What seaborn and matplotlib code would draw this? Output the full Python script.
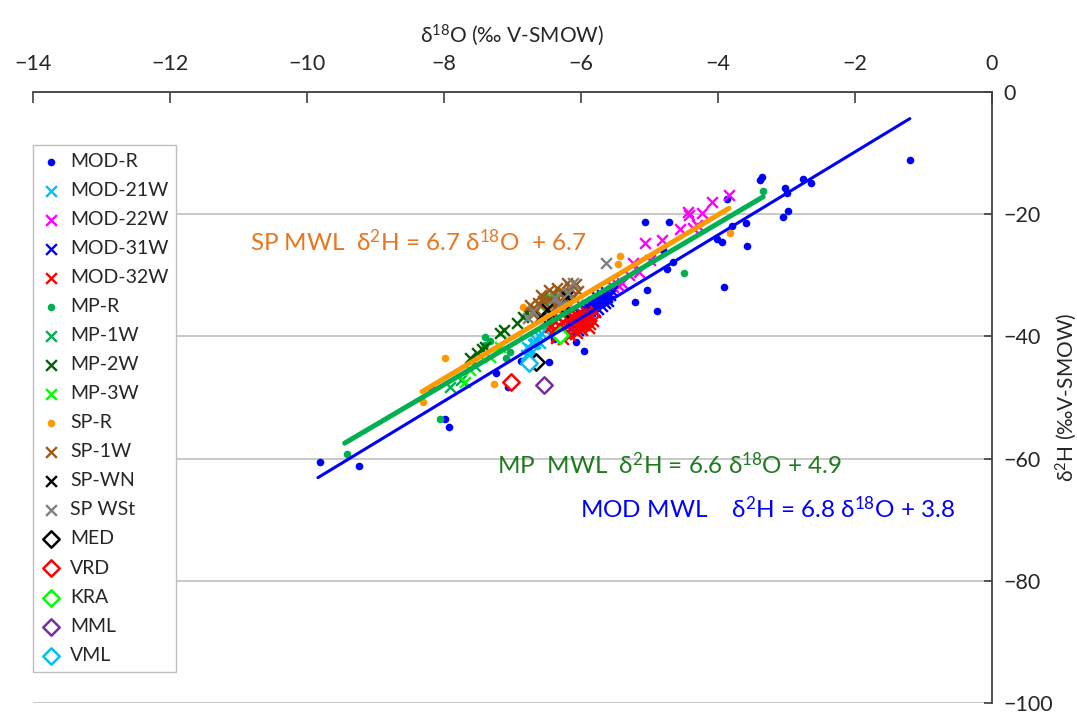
import numpy as np
import pandas as pd
import matplotlib
matplotlib.use("Agg")
import matplotlib.pyplot as plt
import seaborn as sns

# --- data (delta18O, delta2H) ---
mod_r_x = [-9.81, -9.24, -8.18, -7.99, -7.93, -7.24, -7.07, -6.88, -6.74, -6.47, -6.39, -6.07,
           -5.96, -5.21, -5.04, -4.89, -4.80, -4.74, -4.66, -5.07, -4.72, -4.01, -3.94, -3.91,
           -3.87, -3.80, -3.59, -3.58, -3.39, -3.36, -3.05, -2.98, -3.02, -3.00, -2.76, -2.64, -1.20]
mod_r_y = [-60.6, -61.2, -48.6, -53.5, -54.8, -46.0, -48.3, -44.0, -44.7, -44.2, -40.4, -40.9,
           -42.4, -34.4, -32.4, -35.8, -25.9, -29.0, -27.8, -21.3, -21.3, -24.1, -24.6, -31.9,
           -17.5, -22.0, -21.4, -25.2, -14.4, -13.9, -20.5, -19.5, -15.7, -16.5, -14.2, -14.9, -11.1]

mod_21w_x = [-6.80, -6.76, -6.79, -6.75, -6.72, -6.70, -6.67, -6.66, -6.62, -6.60, -6.58, -6.52, -6.50]
mod_21w_y = [-43.0, -43.4, -41.7, -42.0, -42.6, -41.3, -41.1, -40.6, -40.0, -41.0, -39.4, -39.0, -38.6]

mod_22w_x = [-3.84, -4.09, -4.24, -4.44, -4.42, -4.36, -4.30, -4.55, -4.82, -5.07, -5.00, -5.15,
             -5.24, -5.30, -5.40, -5.46, -5.53, -5.60]
mod_22w_y = [-16.9, -18.0, -19.8, -19.6, -20.2, -22.3, -21.8, -22.5, -24.2, -24.7, -27.5, -29.5,
             -28.0, -30.0, -31.3, -31.6, -31.9, -33.0]

mod_31w_x = [-6.20, -6.15, -6.10, -6.08, -6.05, -6.02, -6.00, -5.98, -5.95, -5.92, -5.90, -5.88,
             -5.87, -5.85, -5.83, -5.80, -5.78, -5.75, -5.72, -5.70, -5.68, -5.65, -5.62, -5.60,
             -5.58, -6.12, -6.03, -5.96, -5.91, -5.82, -5.76, -5.69, -5.63, -5.55]
mod_31w_y = [-39.2, -38.8, -38.2, -37.5, -38.9, -37.0, -38.0, -36.4, -37.4, -36.0, -37.0, -35.5,
             -35.9, -36.6, -35.0, -36.0, -34.6, -35.5, -34.2, -35.0, -33.8, -34.6, -33.5, -34.2,
             -33.2, -37.0, -36.2, -35.4, -34.8, -34.4, -33.6, -33.2, -32.8, -32.6]

mod_32w_x = [-6.42, -6.40, -6.38, -6.35, -6.32, -6.30, -6.28, -6.25, -6.22, -6.20, -6.18, -6.15,
             -6.12, -6.10, -6.08, -6.05, -6.02, -6.00, -5.97, -5.95, -5.92, -5.90, -5.87, -5.85,
             -5.82, -6.45, -6.36, -6.27, -6.16, -6.06, -5.98, -5.88, -5.80, -6.33, -6.13]
mod_32w_y = [-39.5, -37.5, -38.8, -39.8, -38.2, -39.2, -37.6, -38.6, -39.6, -37.2, -38.2, -36.8,
             -37.8, -39.0, -36.5, -37.5, -38.5, -36.2, -37.2, -38.2, -36.0, -37.0, -38.0, -36.6,
             -37.5, -38.4, -40.2, -40.4, -39.8, -39.4, -39.0, -38.6, -35.8, -36.8, -35.6]

mp_r_x = [-9.42, -8.06, -7.40, -7.33, -7.40, -7.09, -7.04, -6.57, -6.50, -4.50, -3.34]
mp_r_y = [-59.2, -53.5, -40.1, -40.8, -41.4, -43.5, -42.6, -33.6, -34.2, -29.6, -16.2]

mp_1w_x = [-7.91, -7.75, -7.55]
mp_1w_y = [-48.3, -47.2, -44.8]

mp_2w_x = [-7.62, -7.52, -7.45, -7.40, -7.18, -7.12, -6.93, -6.85, -6.80]
mp_2w_y = [-43.5, -42.7, -42.0, -41.7, -39.4, -39.0, -37.8, -36.9, -36.0]

mp_3w_x = [-7.69, -7.62, -7.33, -7.18, -6.60, -6.42, -6.30]
mp_3w_y = [-47.4, -45.5, -43.4, -41.7, -35.0, -33.7, -32.8]

sp_r_x = [-8.31, -7.99, -7.27, -6.85, -5.43, -5.46, -3.82]
sp_r_y = [-50.8, -43.5, -47.8, -35.2, -26.8, -28.1, -23.1]

sp_1w_x = [-6.74, -6.66, -6.63, -6.55, -6.50, -6.45, -6.40, -6.38, -6.33, -6.26, -6.20, -6.16,
           -6.12, -6.08, -6.05, -6.58, -6.47, -6.35, -6.22, -6.70]
sp_1w_y = [-34.9, -35.6, -34.5, -34.2, -35.8, -33.8, -33.0, -35.2, -34.4, -32.8, -31.2, -32.1,
           -33.6, -31.5, -32.6, -33.2, -32.4, -32.0, -34.0, -36.4]

sp_wn_x = [-6.60, -6.50, -6.42, -6.26, -6.20]
sp_wn_y = [-36.8, -35.5, -36.5, -36.0, -33.5]

sp_wst_x = [-6.77, -6.70, -6.38, -6.30, -6.19, -6.12, -5.64]
sp_wst_y = [-37.0, -35.8, -33.7, -34.8, -32.9, -31.3, -28.0]

lake_names = ["MED", "VRD", "KRA", "MML", "VML"]
lake_x = [-6.66, -7.02, -6.31, -6.54, -6.76]
lake_y = [-44.2, -47.5, -39.8, -48.0, -44.4]

# meteoric water lines: slope, intercept, x range
mwl_names = ["MOD", "MP", "SP"]
mwl_slope = [6.8, 6.6, 6.7]
mwl_icept = [3.8, 4.9, 6.7]
mwl_xmin = [-9.84, -9.45, -8.32]
mwl_xmax = [-1.20, -3.34, -3.84]

# --- style ---
sns.set_style("white")
plt.rcParams['font.family'] = ['Lato', 'DejaVu Sans']
plt.rcParams['mathtext.fontset'] = 'custom'
plt.rcParams['mathtext.rm'] = 'Lato'
plt.rcParams['mathtext.default'] = 'regular'
plt.rcParams['axes.unicode_minus'] = True

fig = plt.figure(figsize=(10.77, 7.13), dpi=100)
ax = fig.add_axes([33 / 1077, 10 / 713, 959 / 1077, 611 / 713])

series = [
    ("MOD-R", mod_r_x, mod_r_y, "o", "#0000FF", 30),
    ("MOD-21W", mod_21w_x, mod_21w_y, "x", "#00C0F0", 60),
    ("MOD-22W", mod_22w_x, mod_22w_y, "x", "#FF00FF", 60),
    ("MOD-31W", mod_31w_x, mod_31w_y, "x", "#0000FF", 60),
    ("MOD-32W", mod_32w_x, mod_32w_y, "x", "#FF0000", 60),
    ("MP-R", mp_r_x, mp_r_y, "o", "#00B050", 30),
    ("MP-1W", mp_1w_x, mp_1w_y, "x", "#00B050", 60),
    ("MP-2W", mp_2w_x, mp_2w_y, "x", "#006400", 60),
    ("MP-3W", mp_3w_x, mp_3w_y, "x", "#00FF00", 60),
    ("SP-R", sp_r_x, sp_r_y, "o", "#FF9900", 30),
    ("SP-1W", sp_1w_x, sp_1w_y, "x", "#9C5A1A", 60),
    ("SP-WN", sp_wn_x, sp_wn_y, "x", "#000000", 60),
    ("SP WSt", sp_wst_x, sp_wst_y, "x", "#808080", 60),
]
lake_colors = ["#000000", "#FF0000", "#00FF00", "#7030A0", "#00C0F0"]

for name, xs, ys, mk, col, sz in series:
    df = pd.DataFrame({"d18O": xs, "d2H": ys})
    if mk == "o":
        sns.scatterplot(data=df, x="d18O", y="d2H", ax=ax, marker="o", color=col,
                        s=sz, linewidth=0, label=name, zorder=3)
    else:
        sns.scatterplot(data=df, x="d18O", y="d2H", ax=ax, marker="x", color=col,
                        s=sz, linewidth=1.7, label=name, zorder=3)

for name, x, y, col in zip(lake_names, lake_x, lake_y, lake_colors):
    df = pd.DataFrame({"d18O": [x], "d2H": [y]})
    sns.scatterplot(data=df, x="d18O", y="d2H", ax=ax, marker="D", s=70,
                    facecolor="white", edgecolor=col, linewidth=1.8, label=name, zorder=4)

line_colors = ["#0000FF", "#00B050", "#FF9900"]
line_widths = [2.2, 3.6, 3.6]
for i, name in enumerate(mwl_names):
    xx = np.array([mwl_xmin[i], mwl_xmax[i]])
    df = pd.DataFrame({"d18O": xx, "d2H": mwl_slope[i] * xx + mwl_icept[i]})
    sns.lineplot(data=df, x="d18O", y="d2H", ax=ax, color=line_colors[i],
                 linewidth=line_widths[i], legend=False, zorder=5 + i)

# equations
ax.text(-10.83, -24.5, r"SP MWL  δ$^{2}$H = 6.7 δ$^{18}$O  + 6.7", color="#E8761E",
        fontsize=17.5, va="center")
ax.text(-7.23, -61.0, r"MP  MWL  δ$^{2}$H = 6.6 δ$^{18}$O + 4.9", color="#1E7B1E",
        fontsize=17.5, va="center")
ax.text(-6.01, -68.2, r"MOD MWL    δ$^{2}$H = 6.8 δ$^{18}$O + 3.8", color="#0000FF",
        fontsize=17.5, va="center")

# axes
ax.set_xlim(-14, 0)
ax.set_ylim(-100, 0)
ax.set_xticks(np.arange(-14, 1, 2))
ax.set_yticks(np.arange(-100, 1, 20))
ax.xaxis.tick_top()
ax.yaxis.tick_right()
ax.tick_params(axis="x", direction="in", length=8, width=1.2, color="#404040",
               labelsize=15.5, pad=13, top=True, bottom=False)
ax.tick_params(axis="y", direction="in", length=6, width=1.2, color="#404040",
               labelsize=15.5, pad=8, right=True, left=False)
for side in ["left", "bottom"]:
    ax.spines[side].set_visible(False)
for side in ["top", "right"]:
    ax.spines[side].set_color("#404040")
    ax.spines[side].set_linewidth(1.3)
ax.yaxis.grid(True, color="#C8C8C8", linewidth=1.4)
ax.xaxis.grid(False)
ax.set_axisbelow(True)

ax.set_xlabel(r"δ$^{18}$O (‰ V-SMOW)", fontsize=15)
ax.xaxis.set_label_position("top")
ax.xaxis.set_label_coords(0.5, 1.082)
ax.set_ylabel(r"δ$^{2}$H (‰V-SMOW)", fontsize=15)
ax.yaxis.set_label_position("right")
ax.yaxis.label.set_va("center")
ax.yaxis.set_label_coords(1.077, 0.5)

leg = ax.legend(loc="upper left", bbox_to_anchor=(33 / 1077, 1 - 145 / 713),
                bbox_transform=fig.transFigure, fontsize=14, frameon=True,
                fancybox=False, edgecolor="#BFBFBF", framealpha=1,
                labelspacing=0.62, handlelength=1.0, handletextpad=0.5,
                borderpad=0.4, borderaxespad=0)
leg.get_frame().set_linewidth(1.0)

fig.savefig("out.png", dpi=100)
